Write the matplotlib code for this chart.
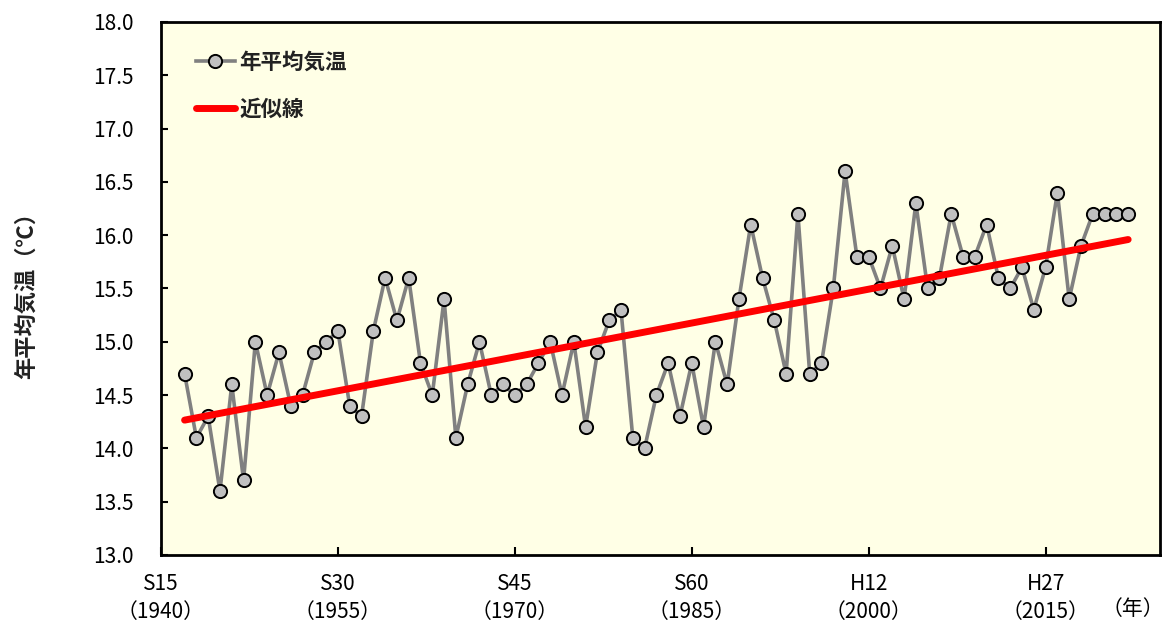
import numpy as np
import matplotlib
matplotlib.use("Agg")
import matplotlib.pyplot as plt

# annual mean temperature
years = np.arange(1942, 2023)
temps = [14.7, 14.1, 14.3, 13.6, 14.6, 13.7, 15.0, 14.5, 14.9, 14.4,
         14.5, 14.9, 15.0, 15.1, 14.4, 14.3, 15.1, 15.6, 15.2, 15.6,
         14.8, 14.5, 15.4, 14.1, 14.6, 15.0, 14.5, 14.6, 14.5, 14.6,
         14.8, 15.0, 14.5, 15.0, 14.2, 14.9, 15.2, 15.3, 14.1, 14.0,
         14.5, 14.8, 14.3, 14.8, 14.2, 15.0, 14.6, 15.4, 16.1, 15.6,
         15.2, 14.7, 16.2, 14.7, 14.8, 15.5, 16.6, 15.8, 15.8, 15.5,
         15.9, 15.4, 16.3, 15.5, 15.6, 16.2, 15.8, 15.8, 16.1, 15.6,
         15.5, 15.7, 15.3, 15.7, 16.4, 15.4, 15.9, 16.2, 16.2, 16.2,
         16.2]

tick_years = [1940, 1955, 1970, 1985, 2000, 2015]
tick_labels = ["S15\n（1940）", "S30\n（1955）", "S45\n（1970）",
               "S60\n（1985）", "H12\n（2000）", "H27\n（2015）"]
yticks = np.arange(13.0, 18.01, 0.5)

num_font = ['Liberation Sans Narrow', 'Noto Sans CJK JP', 'DejaVu Sans']
jp_font = ['Noto Sans CJK JP', 'DejaVu Sans']

fig = plt.figure(figsize=(11.62, 6.25), dpi=100)
ax = fig.add_axes([161/1162, 1-555/625, 999/1162, 533/625])
ax.set_facecolor('#FFFFE6')

# trend line from least squares fit
coef = np.polyfit(years, temps, 1)
trend = np.polyval(coef, years)

ax.plot(years, temps, color='#808080', lw=2.6, marker='o', ms=9.5,
        mfc='#C0C0C0', mec='black', mew=1.4, label='年平均気温', zorder=3)
ax.plot(years, trend, color='#FF0000', lw=5, solid_capstyle='round',
        label='近似線', zorder=4)

ax.set_xlim(1940, 2024.7)
ax.set_ylim(13.0, 18.0)
ax.set_xticks(tick_years)
ax.set_xticklabels(tick_labels, family=num_font, fontsize=15, linespacing=1.35)
ax.set_yticks(yticks)
ax.set_yticklabels(['%.1f' % v for v in yticks], family=num_font, fontsize=15)
ax.tick_params(axis='y', direction='in', length=5, width=1.5, pad=20)
ax.tick_params(axis='x', direction='in', length=6, width=1.5, pad=13)
for s in ax.spines.values():
    s.set_linewidth(2)
    s.set_color('black')

leg = ax.legend(loc='upper left', bbox_to_anchor=(0.035, 0.944), frameon=False,
                borderpad=0, borderaxespad=0, handlelength=1.8,
                handletextpad=0.2, labelspacing=1.2,
                prop={'family': jp_font, 'size': 15.5, 'weight': 'bold'})
for t in leg.get_texts():
    t.set_color('#222222')

fig.text(26/1162, 1-290/625, '年平均気温（℃）', rotation=90, ha='center',
         va='center', family=jp_font, fontsize=16, weight='bold', color='#222222')
fig.text(1133/1162, 1-609/625, '（年）', ha='center', va='center',
         family=jp_font, fontsize=15)

fig.savefig('out.png', dpi=100)
